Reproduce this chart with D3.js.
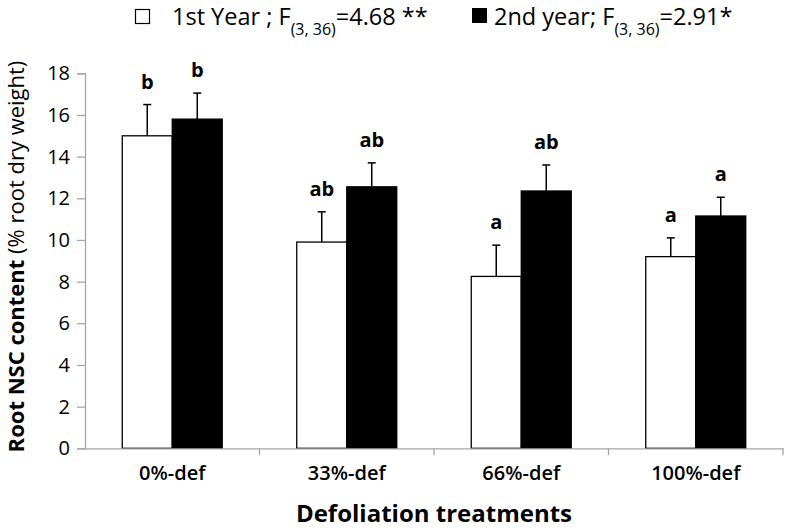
<!DOCTYPE html>
<html>
<head>
<meta charset="utf-8">
<script src="https://cdn.jsdelivr.net/npm/d3@7"></script>
<style>
  html, body { margin: 0; padding: 0; background: #fff; }
  svg { display: block; }
  text { font-family: "Open Sans", Lato, sans-serif; fill: #000; }
</style>
</head>
<body>
<svg id="chart" width="788" height="530"></svg>
<script>
// ---- data ----
const categories = ["0%-def", "33%-def", "66%-def", "100%-def"];
const series = ["1st Year", "2nd year"];
const year1Values = [15.0, 9.9, 8.25, 9.2];
const year1Errors = [1.5, 1.45, 1.5, 0.9];
const year2Values = [15.8, 12.55, 12.35, 11.15];
const year2Errors = [1.25, 1.15, 1.25, 0.9];
const year1Letters = ["b", "ab", "a", "a"];
const year2Letters = ["b", "ab", "ab", "a"];
const yTicks = [0, 2, 4, 6, 8, 10, 12, 14, 16, 18];

(function () {
const svg = d3.select("#chart");
const mLeft = 85, mRight = 783, mTop = 73.3, mBottom = 448.3;

const y = d3.scaleLinear().domain([0, 18]).range([mBottom, mTop]);
const x = d3.scaleBand().domain(categories).range([mLeft, mRight]).paddingInner(0).paddingOuter(0);
const barW = 50;
const xs = d3.scaleBand().domain(series).range([0, barW * 2]);
const groupOffset = (x.bandwidth() - barW * 2) / 2;

const rows = categories.map((c, i) => ({
  cat: c,
  vals: [
    { s: series[0], v: year1Values[i], e: year1Errors[i], l: year1Letters[i], fill: "#fff" },
    { s: series[1], v: year2Values[i], e: year2Errors[i], l: year2Letters[i], fill: "#000" }
  ]
}));

// y axis
const yAxis = d3.axisLeft(y).tickValues(yTicks).tickSize(8).tickPadding(7).tickFormat(d3.format("d"));
const gy = svg.append("g").attr("transform", `translate(${mLeft},0)`).call(yAxis);
gy.select(".domain").attr("stroke", "#a6a6a6").attr("stroke-width", 1.3);
gy.selectAll(".tick line").attr("stroke", "#a6a6a6").attr("stroke-width", 1.3);
gy.selectAll(".tick text").attr("font-size", 20).attr("fill", "#222")
  .style("font-family", "'Open Sans', sans-serif");

// bars
const groups = svg.append("g").selectAll("g").data(rows).join("g")
  .attr("transform", d => `translate(${x(d.cat) + groupOffset},0)`);

groups.selectAll("g.err").data(d => d.vals).join("g").attr("class", "err")
  .each(function(d) {
    const g = d3.select(this);
    const cx = xs(d.s) + xs.bandwidth() / 2;
    g.append("line").attr("x1", cx).attr("x2", cx).attr("y1", y(d.v)).attr("y2", y(d.v + d.e))
      .attr("stroke", "#000").attr("stroke-width", 1.5);
    g.append("line").attr("x1", cx - 4).attr("x2", cx + 4).attr("y1", y(d.v + d.e)).attr("y2", y(d.v + d.e))
      .attr("stroke", "#000").attr("stroke-width", 1.5);
  });

groups.selectAll("rect").data(d => d.vals).join("rect")
  .attr("x", d => xs(d.s))
  .attr("y", d => y(d.v))
  .attr("width", xs.bandwidth())
  .attr("height", d => y(0) - y(d.v))
  .attr("fill", d => d.fill)
  .attr("stroke", "#000")
  .attr("stroke-width", 1.3);

groups.selectAll("text.letter").data(d => d.vals).join("text").attr("class", "letter")
  .attr("x", d => xs(d.s) + xs.bandwidth() / 2)
  .attr("y", d => y(d.v + d.e) - 16)
  .attr("text-anchor", "middle")
  .attr("font-size", 20).attr("font-weight", "bold")
  .text(d => d.l);

// x axis
const xAxis = d3.axisBottom(x).tickSize(0).tickPadding(16);
const gx = svg.append("g").attr("transform", `translate(0,${mBottom})`).call(xAxis);
gx.select(".domain").attr("stroke", "#a6a6a6").attr("stroke-width", 1.3);
gx.selectAll(".tick text").attr("font-size", 20).attr("font-weight", 600).attr("fill", "#000")
  .style("font-family", "'Open Sans', sans-serif")
  .attr("dy", "0.78em");
const bounds = categories.slice(1).map(c => x(c)).concat([mRight]);
gx.selectAll("line.bound").data(bounds).join("line").attr("class", "bound")
  .attr("x1", d => d).attr("x2", d => d).attr("y1", 0).attr("y2", 7)
  .attr("stroke", "#a6a6a6").attr("stroke-width", 1.3);

// x title
svg.append("text").attr("x", (mLeft + mRight) / 2).attr("y", 522)
  .attr("text-anchor", "middle").attr("font-size", 24).attr("font-weight", "bold")
  .text("Defoliation treatments");

// y title
const yt = svg.append("text").attr("transform", `translate(23.5,${(45 + 468) / 2}) rotate(-90)`)
  .attr("text-anchor", "middle").attr("font-size", 22);
yt.append("tspan").attr("font-weight", "bold").text("Root NSC content ");
yt.append("tspan").attr("font-weight", "normal").text("(% root dry weight)");

// legend
const leg = svg.append("g");
leg.append("rect").attr("x", 135.5).attr("y", 9.5).attr("width", 14).attr("height", 14)
  .attr("fill", "#fff").attr("stroke", "#000").attr("stroke-width", 1.2);
const t1 = leg.append("text").attr("x", 172).attr("y", 24.5).attr("font-size", 23.5);
t1.append("tspan").text("1st Year ; F");
t1.append("tspan").attr("font-size", 16).attr("dy", 10).text("(3, 36)");
t1.append("tspan").attr("dy", -10).text("=4.68");
t1.append("tspan").attr("dx", 6).text("**");

leg.append("rect").attr("x", 472).attr("y", 8).attr("width", 15).attr("height", 15)
  .attr("fill", "#000");
const t2 = leg.append("text").attr("x", 494).attr("y", 24.5).attr("font-size", 23.5);
t2.append("tspan").text("2nd year; F");
t2.append("tspan").attr("font-size", 16).attr("dy", 10).text("(3, 36)");
t2.append("tspan").attr("dy", -10).text("=2.91");
t2.append("tspan").text("*");
})();
</script>
</body>
</html>
